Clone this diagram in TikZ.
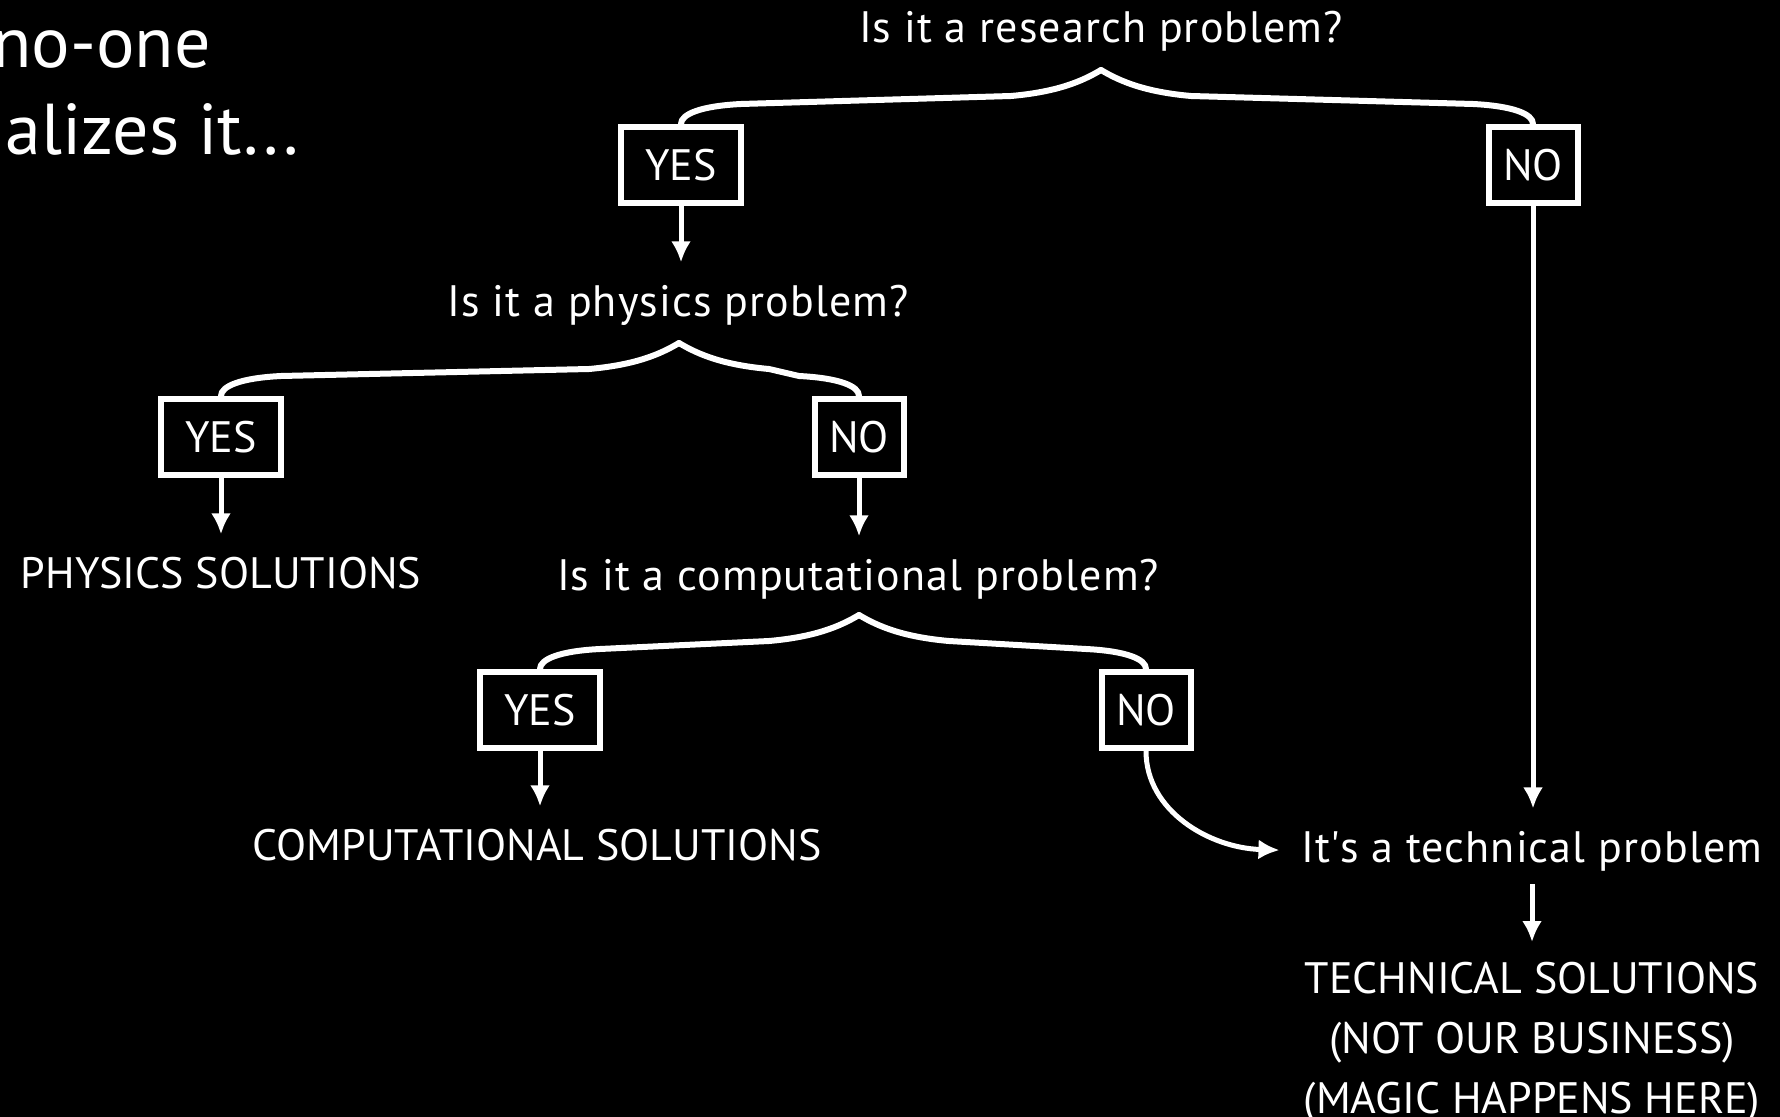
\documentclass[tikz,border=0pt]{standalone}
\usepackage{fontspec}
\setmainfont{PT Sans}
\newfontfamily\askfont{PT Sans}[LetterSpace=2.5]
\usetikzlibrary{calc,arrows.meta}

\begin{document}
\begin{tikzpicture}[
  x=0.5pt, y=-0.5pt,
  every node/.style={text=white, inner sep=0pt, font=\fontsize{22}{30}\selectfont},
  question/.style={anchor=base, font=\askfont\fontsize{22}{30}\selectfont},
  answer/.style={draw=white, line width=3pt, minimum width=#1, minimum height=38pt},
  answer/.default=60pt,
  brace/.style={white, line width=3pt, line cap=round},
  arrow/.style={white, line width=2.5pt, -{Latex[length=10.5pt,width=10pt]}}
]
\useasboundingbox[fill=black] (0,0) rectangle (1780,1117);

% caption, cut off at the left edge
\node[anchor=base west, font=\fontsize{36}{40}\selectfont] (cap1) at (-8,68) {no-one};
\node[anchor=base west, font=\fontsize{36}{40}\selectfont] (cap2) at (5,155) {alizes it...};

% questions
\node[question] (q1) at (1101,43) {Is it a research problem?};
\node[question] (q2) at (678,316) {Is it a physics problem?};
\node[question] (q3) at (858,590) {Is it a computational problem?};
\node[question] (tech) at (1532,862) {It\textquotesingle s a technical problem};

% answers
\node[answer] (yes1) at (681,165) {YES};
\node[answer=44.5pt] (no1) at (1533,165) {NO};
\node[answer] (yes2) at (221,437) {YES};
\node[answer=44.5pt] (no2) at (859,437) {NO};
\node[answer] (yes3) at (540,710) {YES};
\node[answer=44.5pt] (no3) at (1146,710) {NO};

% outcomes
\node[anchor=base] (phys) at (221,588) {PHYSICS SOLUTIONS};
\node[anchor=base] (comp) at (537,860) {COMPUTATIONAL SOLUTIONS};
\node[anchor=north, align=center] (techsol) at (1532,962)
  {TECHNICAL SOLUTIONS\\(NOT OUR BUSINESS)\\(MAGIC HAPPENS HERE)};

% brace tips
\coordinate (c1) at (1101,70);
\coordinate (c2) at (679,343);
\coordinate (c3) at (859,615);

\foreach \c/\e/\s in {c1/yes1/-1, c1/no1/1, c2/yes2/-1, c2/no2/1, c3/yes3/-1, c3/no3/1}
  \draw[brace] (\c) .. controls ($(\c)+(\s*20,12)$) and ($(\c)+(\s*45,22)$) .. ($(\c)+(\s*90,26)$)
    -- ($(\e.north)+(\s*-60,-20)$) .. controls ($(\e.north)+(\s*-20,-18)$) and ($(\e.north)+(0,-10)$) .. (\e.north);

\draw[arrow, shorten >=11pt] (yes1.south) -- (yes1.south |- q2.north);
\draw[arrow, shorten >=11pt] (yes2.south) -- (yes2.south |- phys.north);
\draw[arrow, shorten >=11pt] (no2.south) -- (no2.south |- q3.north);
\draw[arrow, shorten >=11pt] (yes3.south) -- (yes3.south |- comp.north);
\draw[arrow, shorten >=11pt] (no1.south) -- (no1.south |- tech.north);
\draw[arrow, shorten <=6.5pt, shorten >=10pt] (tech.south) -- (tech.south |- techsol.north);
\draw[arrow, shorten >=11pt] (no3.south) .. controls ($(no3.south)+(0,60)$) and ($(tech.west)+(-92,-3)$) .. (tech.west);
\end{tikzpicture}
\end{document}
